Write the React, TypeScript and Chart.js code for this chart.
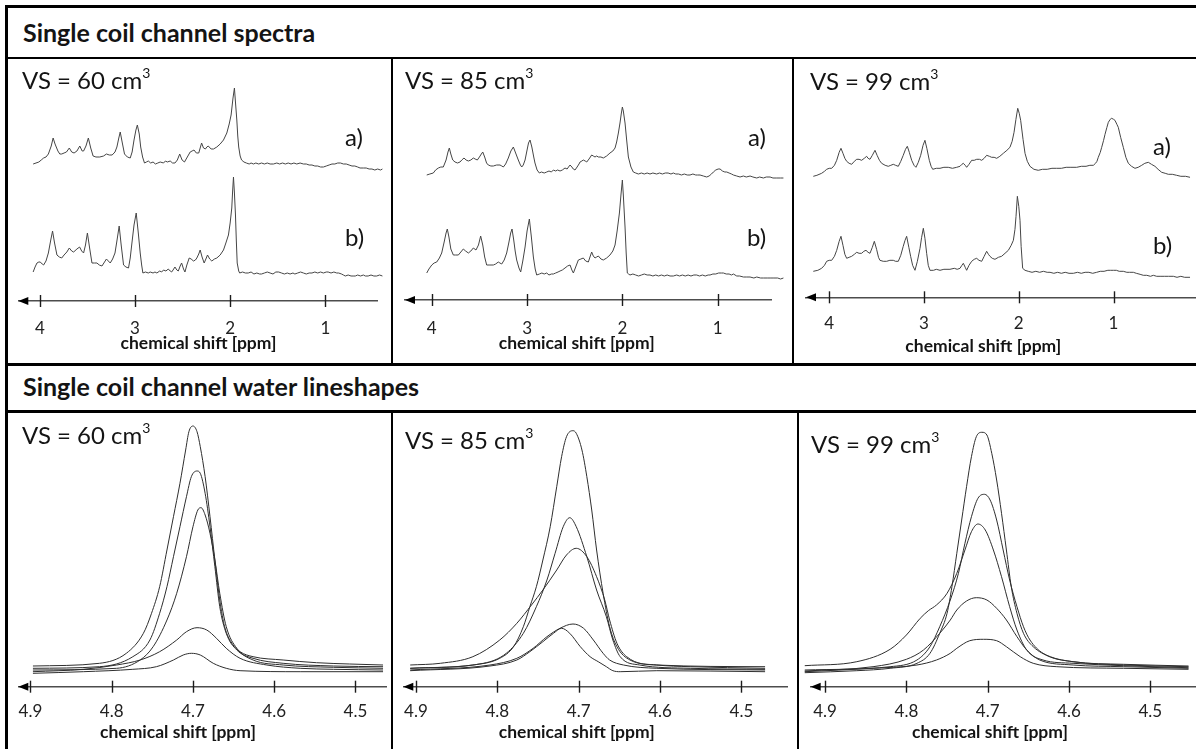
import React, { useEffect, useRef } from 'react';
import { Chart, registerables } from 'chart.js';

Chart.register(...registerables);
Chart.defaults.font.family = 'Lato, sans-serif';

// ---------------- DATA ----------------
// Tick labels (chemical shift, ppm)
const SPECTRA_TICKS = [4, 3, 2, 1];
const WATER_TICKS = [4.9, 4.8, 4.7, 4.6, 4.5];
const VOLUMES = ['60', '85', '99'];
const HEADERS = ['Single coil channel spectra', 'Single coil channel water lineshapes'];
const TRACE_LABELS = ['a)', 'b)'];
const X_TITLE = 'chemical shift [ppm]';

// Single coil channel spectra: [ppm, intensity a.u.] ; a) upper trace, b) lower trace
const SPEC60_A = [[4.07,2],[4.04,3],[4.01,4],[3.985,6],[3.96,8],[3.935,9],[3.91,12],[3.88,20],[3.86,28],[3.84,22],[3.81,15],[3.79,12],[3.77,12],[3.745,13],[3.72,14],[3.69,18],[3.665,14],[3.64,13],[3.61,15],[3.58,20],[3.555,15],[3.54,15],[3.515,20],[3.49,28],[3.465,18],[3.44,10],[3.41,9],[3.37,9],[3.33,10],[3.30,12],[3.27,11],[3.24,11],[3.21,14],[3.19,19],[3.17,28],[3.155,34],[3.135,24],[3.11,12],[3.08,9],[3.05,8],[3.03,14],[3.01,26],[2.99,36],[2.975,41],[2.955,32],[2.94,19],[2.92,9],[2.90,3],[2.88,4],[2.86,5],[2.835,3],[2.81,4],[2.785,2],[2.76,3],[2.735,4],[2.70,3],[2.68,5],[2.66,4],[2.63,5],[2.605,3],[2.58,3],[2.555,6],[2.53,12],[2.505,6],[2.48,4],[2.45,9],[2.42,14],[2.40,15],[2.38,16],[2.355,13],[2.33,13],[2.315,18],[2.30,23],[2.28,18],[2.26,17],[2.245,19],[2.23,20],[2.20,17],[2.175,17],[2.14,19],[2.105,22],[2.07,26],[2.035,33],[2.01,42],[1.99,51],[1.97,68],[1.955,78],[1.945,65],[1.93,46],[1.92,30],[1.91,19],[1.895,10],[1.88,6],[1.855,4],[1.83,3],[1.80,2],[1.78,3],[1.755,2],[1.73,3],[1.70,2],[1.67,3],[1.64,2],[1.61,3],[1.58,2],[1.545,2],[1.51,3],[1.48,2],[1.45,3],[1.42,2],[1.39,3],[1.36,2],[1.33,3],[1.30,2],[1.265,3],[1.23,2],[1.20,2],[1.17,1],[1.14,1],[1.11,0],[1.08,0],[1.05,-1],[1.02,-1],[0.99,0],[0.96,1],[0.93,2],[0.90,2],[0.87,3],[0.84,3],[0.81,2],[0.78,2],[0.75,1],[0.72,0],[0.69,0],[0.66,-1],[0.635,-2],[0.60,-2],[0.57,-2],[0.54,-3],[0.51,-3],[0.48,-4],[0.45,-3],[0.42,-4],[0.40,-3]];
const SPEC60_B = [[4.07,1],[4.05,6],[4.03,10],[4.01,11],[3.995,11],[3.975,9],[3.96,8],[3.935,12],[3.91,20],[3.885,33],[3.866,42],[3.845,30],[3.82,18],[3.795,16],[3.77,15],[3.745,18],[3.716,21],[3.69,25],[3.665,22],[3.645,21],[3.61,24],[3.582,26],[3.56,22],[3.54,20],[3.52,28],[3.50,40],[3.475,24],[3.452,10],[3.425,10],[3.40,10],[3.375,8],[3.347,7],[3.32,11],[3.30,14],[3.28,12],[3.26,10],[3.235,14],[3.21,20],[3.19,32],[3.166,47],[3.145,28],[3.12,8],[3.095,6],[3.068,5],[3.05,15],[3.032,30],[3.01,48],[2.987,60],[2.965,40],[2.945,20],[2.93,8],[2.917,0],[2.89,1],[2.86,0],[2.84,1],[2.81,0],[2.79,1],[2.77,0],[2.74,2],[2.72,1],[2.70,3],[2.675,2],[2.65,4],[2.63,2],[2.615,1],[2.60,3],[2.58,6],[2.56,3],[2.545,2],[2.525,7],[2.51,10],[2.49,4],[2.475,1],[2.455,8],[2.43,15],[2.41,14],[2.385,12],[2.365,13],[2.35,15],[2.33,19],[2.315,23],[2.295,16],[2.273,10],[2.255,14],[2.238,18],[2.215,14],[2.193,12],[2.165,14],[2.14,15],[2.105,18],[2.07,23],[2.045,30],[2.018,38],[2.0,50],[1.983,65],[1.975,80],[1.965,96],[1.955,80],[1.944,58],[1.935,32],[1.926,10],[1.91,2],[1.90,0],[1.87,1],[1.84,0],[1.81,0],[1.78,1],[1.75,-1],[1.72,0],[1.69,-1],[1.67,-1],[1.64,0],[1.61,1],[1.58,0],[1.55,-1],[1.52,1],[1.49,1],[1.46,0],[1.43,-1],[1.40,0],[1.37,-1],[1.34,0],[1.32,-1],[1.29,0],[1.26,1],[1.23,0],[1.20,-1],[1.17,0],[1.14,0],[1.11,1],[1.08,0],[1.05,1],[1.02,0],[0.99,1],[0.97,1],[0.94,0],[0.91,1],[0.88,0],[0.86,0],[0.83,-1],[0.81,-2],[0.79,-3],[0.76,-2],[0.73,-3],[0.70,-3],[0.685,-3],[0.66,-2],[0.63,-3],[0.60,-2],[0.58,-3],[0.55,-3],[0.52,-2],[0.49,-3],[0.46,-3],[0.43,-2],[0.40,-3]];
const SPEC85_A = [[4.053,0],[4.02,1],[3.984,2],[3.96,5],[3.931,7],[3.905,8],[3.879,8],[3.85,15],[3.83,23],[3.816,27],[3.80,21],[3.78,15],[3.756,13],[3.73,12],[3.704,13],[3.685,15],[3.662,17],[3.64,15],[3.616,14],[3.59,15],[3.564,17],[3.545,16],[3.522,15],[3.50,18],[3.48,21],[3.465,23],[3.445,18],[3.425,12],[3.407,10],[3.38,9],[3.354,9],[3.32,10],[3.284,10],[3.265,9],[3.249,8],[3.225,11],[3.197,17],[3.17,24],[3.144,28],[3.12,22],[3.092,15],[3.07,10],[3.056,8],[3.04,10],[3.021,15],[3.00,25],[2.985,32],[2.969,35],[2.95,28],[2.93,18],[2.917,12],[2.895,5],[2.871,2],[2.85,3],[2.82,2],[2.794,3],[2.77,4],[2.745,3],[2.724,5],[2.70,4],[2.68,5],[2.654,4],[2.63,5],[2.602,7],[2.58,6],[2.565,8],[2.549,10],[2.53,8],[2.515,6],[2.497,5],[2.475,8],[2.455,11],[2.444,13],[2.425,14],[2.41,15],[2.39,14],[2.374,13],[2.35,16],[2.322,20],[2.305,19],[2.287,18],[2.27,19],[2.252,18],[2.225,18],[2.2,17],[2.165,19],[2.13,22],[2.10,24],[2.077,27],[2.06,33],[2.042,42],[2.025,52],[2.012,61],[2.0,68],[1.99,64],[1.972,52],[1.955,35],[1.937,18],[1.91,8],[1.885,3],[1.86,2],[1.832,1],[1.80,2],[1.77,1],[1.74,2],[1.71,1],[1.68,2],[1.64,1],[1.61,2],[1.58,1],[1.55,2],[1.52,2],[1.49,1],[1.465,2],[1.44,1],[1.41,1],[1.38,0],[1.35,1],[1.32,0],[1.29,0],[1.26,1],[1.23,0],[1.21,0],[1.185,0],[1.15,-1],[1.115,-2],[1.09,-1],[1.065,1],[1.045,3],[1.02,5],[0.995,6],[0.975,6],[0.95,4],[0.925,3],[0.905,3],[0.88,2],[0.855,1],[0.835,0],[0.80,-1],[0.765,-2],[0.73,-1],[0.70,-2],[0.66,-1],[0.63,-2],[0.59,-3],[0.56,-2],[0.52,-3],[0.49,-2],[0.45,-2],[0.42,-3],[0.38,-3],[0.34,-3],[0.31,-3]];
const SPEC85_B = [[4.053,2],[4.03,6],[4.0,10],[3.975,12],[3.948,13],[3.92,17],[3.896,22],[3.87,33],[3.85,42],[3.837,46],[3.82,38],[3.80,26],[3.774,20],[3.75,20],[3.721,20],[3.695,23],[3.669,26],[3.645,24],[3.616,22],[3.59,24],[3.564,27],[3.536,25],[3.51,30],[3.487,39],[3.465,30],[3.445,18],[3.424,10],[3.39,10],[3.354,10],[3.33,11],[3.302,13],[3.285,12],[3.266,11],[3.24,15],[3.214,22],[3.19,33],[3.172,42],[3.158,46],[3.14,35],[3.125,24],[3.109,15],[3.085,7],[3.067,3],[3.045,14],[3.021,28],[3.0,44],[2.976,56],[2.955,38],[2.934,18],[2.915,6],[2.899,0],[2.87,1],[2.845,2],[2.82,1],[2.794,2],[2.77,0],[2.745,1],[2.724,1],[2.70,2],[2.675,3],[2.654,4],[2.63,5],[2.602,7],[2.575,9],[2.549,10],[2.53,5],[2.514,2],[2.49,8],[2.462,15],[2.435,16],[2.41,17],[2.385,14],[2.357,13],[2.34,18],[2.322,23],[2.305,19],[2.287,17],[2.27,18],[2.252,19],[2.225,16],[2.2,15],[2.165,17],[2.13,20],[2.10,24],[2.077,30],[2.055,44],[2.031,62],[2.015,80],[2.0,95],[1.99,80],[1.972,48],[1.96,22],[1.948,2],[1.935,1],[1.92,0],[1.89,1],[1.86,0],[1.83,-1],[1.80,0],[1.77,1],[1.74,0],[1.71,0],[1.68,-1],[1.65,0],[1.62,-1],[1.59,0],[1.56,-1],[1.53,0],[1.50,-1],[1.465,-1],[1.43,0],[1.40,-1],[1.37,0],[1.34,-1],[1.31,0],[1.28,-1],[1.25,0],[1.22,0],[1.19,-1],[1.16,0],[1.13,-1],[1.10,0],[1.08,0],[1.05,1],[1.02,1],[0.99,2],[0.96,2],[0.94,2],[0.91,1],[0.88,1],[0.855,0],[0.835,1],[0.80,-1],[0.77,-1],[0.73,-2],[0.70,-2],[0.66,-2],[0.62,-3],[0.59,-2],[0.55,-3],[0.52,-3],[0.48,-3],[0.45,-3],[0.41,-3],[0.37,-3],[0.34,-4],[0.31,-3]];
const SPEC99_A = [[4.168,-7],[4.13,-6],[4.08,-4],[4.05,-2],[4.027,0],[4.0,1],[3.974,1],[3.945,4],[3.921,9],[3.895,17],[3.876,21],[3.855,16],[3.835,11],[3.816,8],[3.79,6],[3.763,5],[3.735,8],[3.71,10],[3.685,10],[3.658,9],[3.63,11],[3.605,13],[3.59,11],[3.57,10],[3.545,14],[3.517,19],[3.495,14],[3.47,9],[3.447,6],[3.41,4],[3.377,3],[3.35,4],[3.324,5],[3.30,4],[3.271,3],[3.245,8],[3.219,14],[3.195,20],[3.176,23],[3.155,17],[3.13,9],[3.105,4],[3.085,2],[3.06,7],[3.035,14],[3.01,24],[2.99,29],[2.97,21],[2.944,9],[2.925,3],[2.908,0],[2.87,1],[2.831,1],[2.79,2],[2.744,2],[2.70,1],[2.655,2],[2.62,3],[2.6,5],[2.585,6],[2.565,4],[2.55,2],[2.525,5],[2.497,9],[2.47,9],[2.444,10],[2.415,10],[2.391,9],[2.365,11],[2.339,14],[2.31,13],[2.286,12],[2.26,12],[2.233,11],[2.2,13],[2.163,16],[2.125,19],[2.093,22],[2.07,28],[2.05,37],[2.03,50],[2.011,61],[1.995,56],[1.98,49],[1.955,30],[1.934,16],[1.91,8],[1.882,3],[1.84,0],[1.794,-1],[1.75,0],[1.70,0],[1.65,1],[1.60,1],[1.55,1],[1.50,2],[1.45,2],[1.389,2],[1.34,3],[1.29,3],[1.25,4],[1.213,4],[1.19,6],[1.175,8],[1.161,12],[1.14,17],[1.125,22],[1.105,29],[1.09,35],[1.07,42],[1.055,47],[1.035,50],[1.02,51],[1.0,50],[0.985,49],[0.965,45],[0.95,42],[0.925,32],[0.897,22],[0.87,12],[0.844,6],[0.81,3],[0.774,1],[0.74,2],[0.703,4],[0.67,6],[0.633,7],[0.6,5],[0.563,3],[0.53,0],[0.492,-3],[0.455,-4],[0.422,-5],[0.38,-5],[0.334,-6],[0.29,-7],[0.24,-7],[0.193,-8]];
const SPEC99_B = [[4.168,0],[4.12,1],[4.08,3],[4.05,6],[4.027,10],[4.0,11],[3.974,11],[3.945,15],[3.921,21],[3.895,30],[3.876,35],[3.855,26],[3.835,17],[3.816,13],[3.79,14],[3.763,15],[3.735,17],[3.71,19],[3.685,18],[3.658,18],[3.635,20],[3.612,21],[3.59,19],[3.57,18],[3.545,24],[3.524,30],[3.50,22],[3.48,14],[3.465,11],[3.43,10],[3.394,10],[3.36,11],[3.324,11],[3.30,10],[3.271,10],[3.245,16],[3.219,25],[3.2,31],[3.183,35],[3.16,24],[3.141,15],[3.12,6],[3.095,1],[3.07,10],[3.042,23],[3.025,34],[3.007,43],[2.99,33],[2.972,18],[2.955,6],[2.937,1],[2.9,1],[2.87,2],[2.831,1],[2.79,2],[2.726,2],[2.68,3],[2.65,2],[2.62,3],[2.6,6],[2.585,8],[2.565,4],[2.55,1],[2.525,6],[2.497,10],[2.47,12],[2.444,13],[2.42,11],[2.391,10],[2.365,15],[2.339,20],[2.32,17],[2.304,15],[2.28,13],[2.251,12],[2.215,14],[2.181,15],[2.145,18],[2.11,21],[2.08,26],[2.057,31],[2.04,42],[2.029,55],[2.015,75],[2.0,65],[1.987,51],[1.975,25],[1.959,3],[1.934,1],[1.90,0],[1.86,-1],[1.82,0],[1.78,-1],[1.74,0],[1.70,-1],[1.67,-1],[1.63,-2],[1.59,-1],[1.55,-2],[1.51,-1],[1.47,-2],[1.424,-2],[1.38,-1],[1.34,-2],[1.30,-1],[1.26,-1],[1.22,-2],[1.178,-1],[1.14,0],[1.10,0],[1.06,1],[1.03,1],[1.002,1],[0.97,1],[0.94,0],[0.897,0],[0.86,-1],[0.83,-1],[0.791,-1],[0.76,-2],[0.72,-3],[0.686,-4],[0.65,-4],[0.61,-5],[0.58,-4],[0.545,-5],[0.5,-5],[0.46,-5],[0.42,-5],[0.369,-5],[0.33,-6],[0.29,-5],[0.25,-6],[0.193,-6]];
// vertical stacking of a) and b) traces, in the same a.u.
const STACK_60 = [135, 28];
const STACK_85 = [125, 25];
const STACK_99 = [128, 26];

// Single coil channel water lineshapes: [ppm, intensity a.u.]
const LS60_1 = [[4.897,20.7],[4.815,23.4],[4.782,33.4],[4.761,53.4],[4.751,73.4],[4.741,100],[4.732,136.7],[4.724,170],[4.716,203.4],[4.709,236.7],[4.705,255],[4.700,260.7],[4.695,255],[4.691,240],[4.685,210],[4.679,170],[4.673,126.7],[4.667,86.7],[4.661,60],[4.652,43.4],[4.642,35],[4.626,30],[4.589,26.7],[4.548,24],[4.507,22.7],[4.466,21.7]];
const LS60_2 = [[4.897,18.4],[4.815,20],[4.774,30],[4.753,46.7],[4.741,73.4],[4.732,100],[4.724,130],[4.716,160],[4.708,190],[4.702,210],[4.695,215.7],[4.691,213.4],[4.685,193.4],[4.679,160],[4.673,120],[4.667,80],[4.659,53.4],[4.646,36.7],[4.626,28.4],[4.589,23.4],[4.527,20.7],[4.466,20]];
const LS60_3 = [[4.897,16.7],[4.794,18.4],[4.765,26.7],[4.749,40],[4.732,66.7],[4.720,93.4],[4.708,130],[4.700,160],[4.694,176.7],[4.690,179],[4.685,171.7],[4.679,153.4],[4.673,126.7],[4.667,93.4],[4.659,60],[4.646,38.4],[4.626,26.7],[4.589,21.7],[4.527,19.4],[4.466,18.4]];
const LS60_4 = [[4.897,15],[4.835,17.4],[4.794,21.7],[4.765,26.7],[4.741,35],[4.720,46.7],[4.708,55],[4.695,59],[4.683,56.7],[4.671,48.4],[4.659,38.4],[4.642,28.4],[4.609,21.7],[4.568,18.4],[4.527,17.4],[4.466,16.7]];
const LS60_5 = [[4.897,13.4],[4.835,15],[4.774,17.4],[4.745,20],[4.724,26.7],[4.712,31.7],[4.702,33.4],[4.691,31.7],[4.675,23.4],[4.659,18.4],[4.642,16],[4.568,15],[4.466,15]];
const LS85_1 = [[4.907,18.4],[4.830,21.7],[4.797,28.4],[4.780,40],[4.768,60],[4.760,80],[4.752,100],[4.744,126.7],[4.735,160],[4.727,200],[4.721,230],[4.715,250],[4.707,256],[4.703,253.4],[4.696,236.7],[4.690,210],[4.684,176.7],[4.678,136.7],[4.670,93.4],[4.662,60],[4.653,40],[4.637,26.7],[4.604,21.7],[4.563,20],[4.471,18.4]];
const LS85_2 = [[4.907,18.4],[4.817,23.4],[4.789,33.4],[4.768,53.4],[4.752,80],[4.739,106.7],[4.729,133.4],[4.719,160],[4.711,169],[4.703,160],[4.690,130],[4.678,96.7],[4.666,70],[4.658,46.7],[4.649,30],[4.625,21.7],[4.563,18.4],[4.471,17.4]];
const LS85_3 = [[4.907,21.7],[4.870,23.4],[4.830,30],[4.797,46.7],[4.776,63.4],[4.758,81.7],[4.744,96.7],[4.727,116.7],[4.715,131.7],[4.703,138.4],[4.690,130],[4.678,110],[4.668,86.7],[4.662,66.7],[4.653,43.4],[4.641,30],[4.604,21.7],[4.471,20]];
const LS85_4 = [[4.907,16.7],[4.809,21.7],[4.776,28.4],[4.756,38.4],[4.739,50],[4.723,58.4],[4.707,62.7],[4.694,58.4],[4.682,46.7],[4.670,33.4],[4.662,26.7],[4.645,21.7],[4.604,18.4],[4.471,16.7]];
const LS85_5 = [[4.907,16],[4.809,20.7],[4.776,26.7],[4.760,35],[4.744,45],[4.731,53.4],[4.721,58.4],[4.711,53.4],[4.698,40],[4.686,30],[4.676,25],[4.666,20],[4.658,16],[4.649,15],[4.604,16],[4.471,15]];
const LS99_1 = [[4.925,14],[4.861,16],[4.820,18.4],[4.787,23.4],[4.771,33.4],[4.759,53.4],[4.750,73.4],[4.744,100],[4.738,133.4],[4.732,166.7],[4.726,200],[4.720,230],[4.714,250],[4.707,254.4],[4.701,251.7],[4.695,233.4],[4.689,206.7],[4.683,173.4],[4.677,136.7],[4.671,100],[4.664,73.4],[4.656,53.4],[4.644,40],[4.623,30],[4.595,25],[4.533,21.7],[4.453,20]];
const LS99_2 = [[4.925,16.7],[4.820,20],[4.787,26.7],[4.771,40],[4.759,60],[4.746,86.7],[4.736,113.4],[4.728,143.4],[4.720,170],[4.712,188.4],[4.704,192.4],[4.697,186.7],[4.689,166.7],[4.681,136.7],[4.673,106.7],[4.664,80],[4.656,60],[4.648,46.7],[4.632,33.4],[4.595,25],[4.533,22.4],[4.453,20.7]];
const LS99_3 = [[4.925,21],[4.861,25],[4.820,37.4],[4.800,51.7],[4.783,68.4],[4.773,76],[4.763,81.7],[4.750,93.4],[4.738,113.4],[4.728,136.7],[4.720,155],[4.712,162.7],[4.703,156.7],[4.693,136.7],[4.683,110],[4.673,80],[4.664,56.7],[4.652,36.7],[4.632,26.7],[4.595,23.4],[4.533,21],[4.453,19]];
const LS99_4 = [[4.925,15.7],[4.841,20],[4.800,27.4],[4.779,36.7],[4.759,53.4],[4.746,66.7],[4.738,76.7],[4.726,85.7],[4.714,89],[4.701,86.7],[4.689,78.4],[4.677,66.7],[4.664,50],[4.652,36.7],[4.636,26.7],[4.595,21.7],[4.533,20],[4.453,18.4]];
const LS99_5 = [[4.925,15],[4.841,18.4],[4.787,21.7],[4.763,26.7],[4.746,33.4],[4.738,38.4],[4.722,46],[4.705,47.4],[4.689,46],[4.677,40],[4.660,30],[4.644,23.4],[4.615,20],[4.533,18.4],[4.453,17.4]];

// ---------------- CHART PIECES ----------------
const axisDecor = {
  id: 'axisDecor',
  afterDraw(chart: any) {
    const { ctx, chartArea } = chart;
    const xs = chart.scales.x;
    const y = xs.top;
    ctx.save();
    ctx.strokeStyle = '#1c1c1c';
    ctx.lineWidth = 1.4;
    xs.ticks.forEach((t: any) => {
      const px = Math.round(xs.getPixelForValue(t.value)) + 0.5;
      ctx.beginPath();
      ctx.moveTo(px, y - 6);
      ctx.lineTo(px, y + 6);
      ctx.stroke();
    });
    ctx.fillStyle = '#000';
    ctx.beginPath();
    ctx.moveTo(chartArea.left, y);
    ctx.lineTo(chartArea.left + 10, y - 4);
    ctx.lineTo(chartArea.left + 10, y + 4);
    ctx.closePath();
    ctx.fill();
    ctx.restore();
  },
};

type Series = { points: number[][]; offset: number };
type PanelProps = {
  left: number; top: number; width: number; height: number;
  padLeft: number; padRight: number; axisY: number;
  xMin: number; xMax: number; ticks: number[]; decimals: number; labelPad: number;
  series: Series[]; color: string; smooth: boolean;
};

function Panel(p: PanelProps) {
  const ref = useRef<HTMLCanvasElement>(null);
  useEffect(() => {
    const axisH = p.top + p.height - p.axisY;
    const plotH = p.axisY - p.top;
    const chart = new Chart(ref.current as HTMLCanvasElement, {
      type: 'line',
      data: {
        datasets: p.series.map((s) => ({
          data: s.points.map(([x, y]) => ({ x, y: y + s.offset })),
          borderColor: p.color,
          borderWidth: 1,
          pointRadius: 0,
          fill: false,
          tension: 0,
          cubicInterpolationMode: p.smooth ? 'monotone' : 'default',
          clip: false,
        })) as any,
      },
      options: {
        responsive: false,
        animation: false,
        events: [],
        layout: { padding: { left: p.padLeft, right: p.padRight, top: 0, bottom: 0 } },
        plugins: { legend: { display: false }, tooltip: { enabled: false } },
        scales: {
          x: {
            type: 'linear',
            position: 'bottom',
            reverse: true,
            min: p.xMin,
            max: p.xMax,
            afterBuildTicks: (s: any) => { s.ticks = p.ticks.map((v) => ({ value: v })); },
            afterFit: (s: any) => {
              s.height = axisH;
              s.paddingLeft = 0; s.paddingRight = 0; s.paddingTop = 0; s.paddingBottom = 0;
            },
            grid: { display: false, drawTicks: false },
            border: { display: true, color: '#4d4d4d', width: 1.5 },
            ticks: {
              padding: p.labelPad,
              font: { family: 'Lato', size: 17 },
              color: '#222',
              maxRotation: 0,
              autoSkip: false,
              callback: (v: any) => Number(v).toFixed(p.decimals),
            },
          },
          y: { display: false, min: 0, max: plotH },
        },
      } as any,
      plugins: [axisDecor],
    });
    return () => chart.destroy();
  }, []);
  return (
    <canvas
      ref={ref}
      width={p.width}
      height={p.height}
      style={{ position: 'absolute', left: p.left, top: p.top, width: p.width, height: p.height }}
    />
  );
}

function Txt(props: { x: number; base: number; size: number; bold?: boolean; center?: boolean; children: any }) {
  const { x, base, size, bold, center, children } = props;
  const top = base - 0.987 * size;
  return (
    <div
      style={{
        position: 'absolute',
        left: center ? x - 200 : x,
        width: center ? 400 : undefined,
        textAlign: center ? 'center' : 'left',
        top,
        fontSize: size,
        lineHeight: `${size * 1.2}px`,
        fontWeight: bold ? 700 : 400,
        whiteSpace: 'nowrap',
        color: '#141414',
      }}
    >
      {children}
    </div>
  );
}

function VS({ x, base, v }: { x: number; base: number; v: string }) {
  return (
    <Txt x={x} base={base} size={24}>
      VS = {v} cm<span style={{ fontSize: 14, position: 'relative', top: -11 }}>3</span>
    </Txt>
  );
}

function Rect({ l, t, w, h }: { l: number; t: number; w: number; h: number }) {
  return <div style={{ position: 'absolute', left: l, top: t, width: w, height: h, background: '#000' }} />;
}

const TOP_H = 304;
const BOT_H = 336;

export default function App() {
  return (
    <div style={{ position: 'absolute', left: 0, top: 0, width: 1196, height: 749, overflow: 'hidden', background: '#fff', fontFamily: 'Lato, sans-serif' }}>
      {/* frame */}
      <Rect l={5} t={5} w={1200} h={3} />
      <Rect l={5} t={5} w={3} h={760} />
      <Rect l={5} t={57} w={1200} h={2} />
      <Rect l={5} t={363} w={1200} h={3} />
      <Rect l={5} t={410} w={1200} h={3} />
      <Rect l={391} t={59} w={2} h={304} />
      <Rect l={792} t={59} w={2} h={304} />
      <Rect l={391} t={413} w={2} h={340} />
      <Rect l={797} t={413} w={2} h={340} />

      {/* headers */}
      <Txt x={23} base={42} size={25} bold>{HEADERS[0]}</Txt>
      <Txt x={23} base={395.5} size={25} bold>{HEADERS[1]}</Txt>

      {/* spectra panels */}
      <Panel left={8} top={59} width={383} height={TOP_H} padLeft={10.3} padRight={14} axisY={301}
        xMin={0.457} xMax={4.226} ticks={SPECTRA_TICKS} decimals={0} labelPad={16.9}
        series={[{ points: SPEC60_A, offset: STACK_60[0] }, { points: SPEC60_B, offset: STACK_60[1] }]}
        color="#454545" smooth={false} />
      <Panel left={393} top={59} width={399} height={TOP_H} padLeft={12} padRight={20.3} axisY={300}
        xMin={0.433} xMax={4.281} ticks={SPECTRA_TICKS} decimals={0} labelPad={18.6}
        series={[{ points: SPEC85_A, offset: STACK_85[0] }, { points: SPEC85_B, offset: STACK_85[1] }]}
        color="#454545" smooth={false} />
      <Panel left={794} top={59} width={402} height={TOP_H} padLeft={12} padRight={0} axisY={297.3}
        xMin={0.13} xMax={4.245} ticks={SPECTRA_TICKS} decimals={0} labelPad={15.6}
        series={[{ points: SPEC99_A, offset: STACK_99[0] }, { points: SPEC99_B, offset: STACK_99[1] }]}
        color="#454545" smooth={false} />

      {/* water lineshape panels */}
      <Panel left={8} top={413} width={383} height={BOT_H} padLeft={10.3} padRight={4.3} axisY={686.7}
        xMin={4.4615} xMax={4.915} ticks={WATER_TICKS} decimals={1} labelPad={14.9}
        series={[LS60_1, LS60_2, LS60_3, LS60_4, LS60_5].map((points) => ({ points, offset: 0 }))}
        color="#2e2e2e" smooth={true} />
      <Panel left={393} top={413} width={404} height={BOT_H} padLeft={10.3} padRight={9.7} axisY={686.7}
        xMin={4.4437} xMax={4.9155} ticks={WATER_TICKS} decimals={1} labelPad={14.9}
        series={[LS85_1, LS85_2, LS85_3, LS85_4, LS85_5].map((points) => ({ points, offset: 0 }))}
        color="#2e2e2e" smooth={true} />
      <Panel left={799} top={413} width={397} height={BOT_H} padLeft={11.7} padRight={0} axisY={686.7}
        xMin={4.4438} xMax={4.9177} ticks={WATER_TICKS} decimals={1} labelPad={14.9}
        series={[LS99_1, LS99_2, LS99_3, LS99_4, LS99_5].map((points) => ({ points, offset: 0 }))}
        color="#2e2e2e" smooth={true} />

      {/* panel labels */}
      <VS x={22} base={89.5} v={VOLUMES[0]} />
      <VS x={405} base={90} v={VOLUMES[1]} />
      <VS x={810} base={90.5} v={VOLUMES[2]} />
      <VS x={22} base={444.5} v={VOLUMES[0]} />
      <VS x={405} base={450} v={VOLUMES[1]} />
      <VS x={811} base={453.5} v={VOLUMES[2]} />

      <Txt x={345} base={146.7} size={24}>{TRACE_LABELS[0]}</Txt>
      <Txt x={345} base={246.7} size={24}>{TRACE_LABELS[1]}</Txt>
      <Txt x={748} base={146.7} size={24}>{TRACE_LABELS[0]}</Txt>
      <Txt x={747} base={246.7} size={24}>{TRACE_LABELS[1]}</Txt>
      <Txt x={1153} base={156} size={24}>{TRACE_LABELS[0]}</Txt>
      <Txt x={1153} base={255} size={24}>{TRACE_LABELS[1]}</Txt>

      {/* axis titles */}
      <Txt x={198.5} base={349.5} size={17.5} bold center>{X_TITLE}</Txt>
      <Txt x={576.7} base={349} size={17.5} bold center>{X_TITLE}</Txt>
      <Txt x={983.3} base={352} size={17.5} bold center>{X_TITLE}</Txt>
      <Txt x={178} base={738} size={17.5} bold center>{X_TITLE}</Txt>
      <Txt x={576.7} base={738.5} size={17.5} bold center>{X_TITLE}</Txt>
      <Txt x={990} base={738} size={17.5} bold center>{X_TITLE}</Txt>
    </div>
  );
}
